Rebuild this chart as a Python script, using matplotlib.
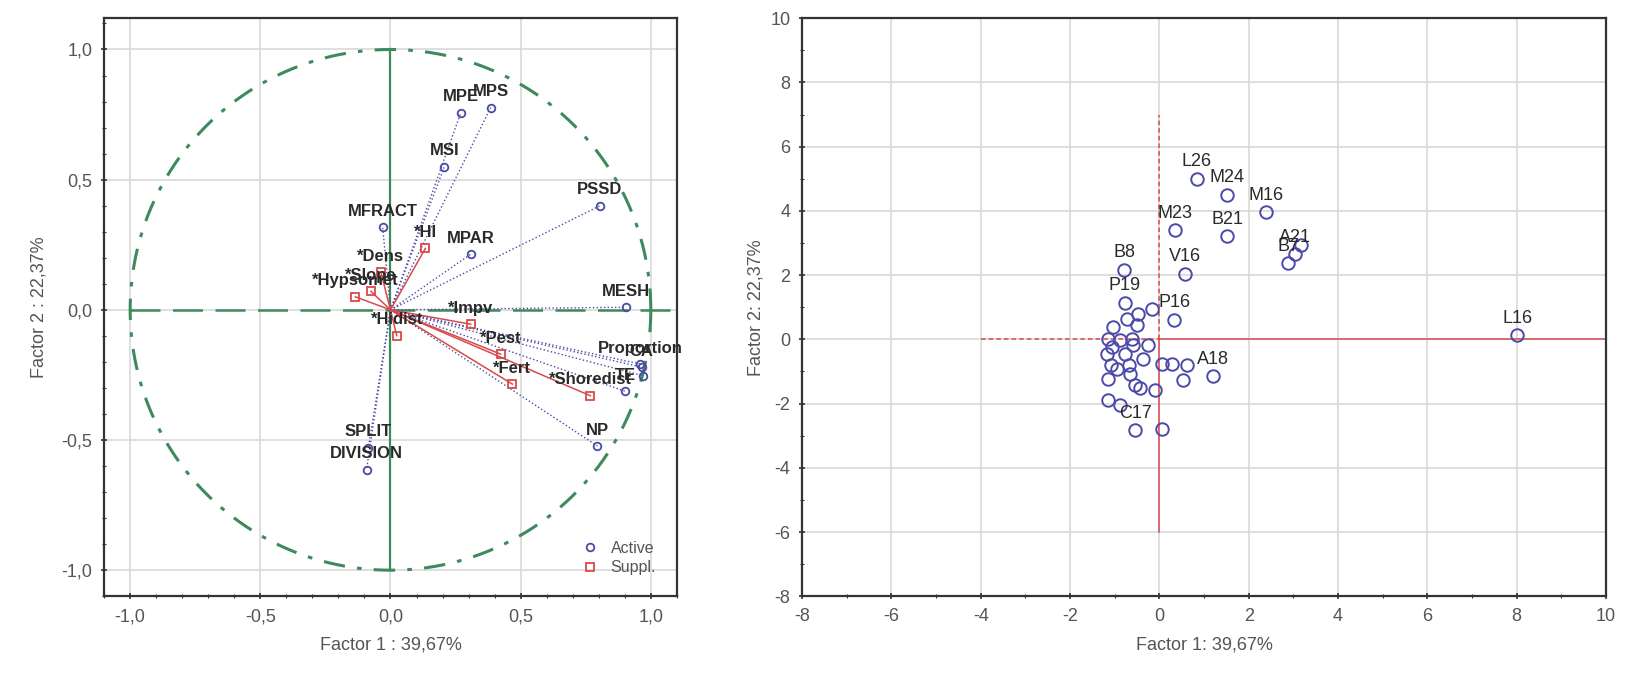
import numpy as np
import matplotlib
matplotlib.use("Agg")
import matplotlib.pyplot as plt
from matplotlib.ticker import MultipleLocator, FuncFormatter
from matplotlib.lines import Line2D

plt.rcParams['font.family'] = ['Liberation Sans', 'DejaVu Sans']
plt.rcParams['axes.unicode_minus'] = False

# --- variable loadings (factor 1 / factor 2) ---
active_names = ["MPE", "MPS", "MSI", "PSSD", "MFRACT", "MPAR", "MESH",
                "Proportion", "CA", "", "TE", "NP", "SPLIT", "DIVISION"]
active_f1 = [0.27, 0.385, 0.207, 0.805, -0.03, 0.31, 0.905,
             0.959, 0.965, 0.971, 0.902, 0.795, -0.085, -0.092]
active_f2 = [0.757, 0.777, 0.55, 0.40, 0.318, 0.215, 0.01,
             -0.208, -0.22, -0.253, -0.313, -0.523, -0.53, -0.614]

supp_names = ["*HI", "*Dens", "*Slope", "*Hypsomet", "*Hidist",
              "*Impv", "*Pest", "*Fert", "*Shoredist"]
supp_f1 = [0.134, -0.037, -0.075, -0.135, 0.024, 0.308, 0.423, 0.468, 0.768]
supp_f2 = [0.236, 0.145, 0.071, 0.05, -0.099, -0.055, -0.17, -0.285, -0.33]

# --- case scores ---
obs_names = ["L16", "L26", "M24", "M16", "M23", "B21", "", "A21", "B7",
             "V16", "B8", "P19", "P16", "A18", "C17",
             "", "", "", "", "", "", "", "", "", "", "", "", "", "", "",
             "", "", "", "", "", "", "", "", "", "", "", "", "", ""]
obs_f1 = [8.02, 0.84, 1.51, 2.38, 0.35, 1.52, 3.17, 3.04, 2.89,
          0.58, -0.79, -0.77, 0.33, 1.21, -0.54,
          -0.17, -0.47, -0.72, -0.51, -1.03, -1.14, -0.88, -0.62, -0.58, -0.25,
          -1.07, -0.77, -1.18, -0.36, 0.05, 0.28, 0.61, -1.09, -0.69, -0.95,
          -0.66, -1.14, 0.54, -0.54, -0.43, -0.10, -1.14, -0.88, 0.05]
obs_f2 = [0.12, 5.0, 4.51, 3.97, 3.40, 3.21, 2.93, 2.65, 2.38,
          2.05, 2.17, 1.14, 0.61, -1.15, -2.83,
          0.93, 0.78, 0.64, 0.44, 0.38, 0.02, -0.03, 0.02, -0.19, -0.19,
          -0.24, -0.45, -0.45, -0.60, -0.76, -0.76, -0.81, -0.81, -0.81, -0.91,
          -1.07, -1.22, -1.28, -1.43, -1.50, -1.57, -1.90, -2.06, -2.78]

x_label_left = "Factor 1 : 39,67%"
y_label_left = "Factor 2 : 22,37%"
x_label_right = "Factor 1: 39,67%"
y_label_right = "Factor 2: 22,37%"

BLUE = "#4a4aa8"
RED = "#d84a4a"
GREEN = "#3d8a5c"
GRID = "#d9d9d9"
TXT = "#555555"
LBL = "#2a2a2a"


def comma_fmt(decimals):
    def f(v, _):
        if abs(v) < 1e-9:
            v = 0.0
        return f"{v:.{decimals}f}".replace('.', ',')
    return FuncFormatter(f)


def style_axes(ax):
    ax.grid(True, which='major', color=GRID, lw=1.2)
    ax.set_axisbelow(True)
    for s in ax.spines.values():
        s.set_color("#333333")
        s.set_linewidth(1.6)
    ax.tick_params(which='both', direction='inout', colors="#333333",
                   labelcolor=TXT, labelsize=13)
    ax.tick_params(which='major', length=5, width=1.2, pad=6)
    ax.tick_params(which='minor', length=3, width=0.8)


fig = plt.figure(figsize=(16.27, 6.76), dpi=100)
ax1 = fig.add_axes([0.064, 0.118, 0.352, 0.855])
ax2 = fig.add_axes([0.493, 0.118, 0.494, 0.855])

# ---------------- correlation circle ----------------
style_axes(ax1)
ax1.set_xlim(-1.1, 1.1)
ax1.set_ylim(-1.1, 1.12)
ax1.xaxis.set_major_locator(MultipleLocator(0.5))
ax1.yaxis.set_major_locator(MultipleLocator(0.5))
ax1.xaxis.set_minor_locator(MultipleLocator(0.1))
ax1.yaxis.set_minor_locator(MultipleLocator(0.1))
ax1.xaxis.set_major_formatter(comma_fmt(1))
ax1.yaxis.set_major_formatter(comma_fmt(1))

t = np.linspace(0, 2 * np.pi, 400)
ax1.plot(np.cos(t), np.sin(t), color=GREEN, lw=2.2, ls=(0, (7, 4, 1.5, 4)))
ax1.plot([-1.0, 1.1], [0, 0], color=GREEN, lw=1.8, ls=(0, (12, 5)))
ax1.plot([0, 0], [-1.0, 1.0], color=GREEN, lw=1.6)

for x, y in zip(active_f1, active_f2):
    ax1.plot([0, x], [0, y], color=BLUE, lw=1.0, ls=':')
for x, y in zip(supp_f1, supp_f2):
    ax1.plot([0, x], [0, y], color=RED, lw=1.1)

ax1.plot(active_f1, active_f2, 'o', ms=5.5, mfc='none', mec=BLUE, mew=1.3)
ax1.plot(supp_f1, supp_f2, 's', ms=5.5, mfc='none', mec=RED, mew=1.3)

for name, x, y in zip(active_names + supp_names, active_f1 + supp_f1,
                      active_f2 + supp_f2):
    if name:
        ax1.annotate(name, (x, y), xytext=(0, 6), textcoords='offset points',
                     ha='center', va='bottom', fontsize=12, color=LBL,
                     fontweight='semibold')

handles = [Line2D([], [], marker='o', ls='none', ms=5.5, mfc='none', mec=BLUE, mew=1.3),
           Line2D([], [], marker='s', ls='none', ms=5.5, mfc='none', mec=RED, mew=1.3)]
leg = ax1.legend(handles, ["Active", "Suppl."], loc='lower right', frameon=False,
                 fontsize=11.5, handlelength=1.0, handletextpad=0.8,
                 labelspacing=0.3, borderaxespad=0.9)
for txt in leg.get_texts():
    txt.set_color(TXT)

ax1.set_xlabel(x_label_left, fontsize=13, color=TXT, labelpad=8)
ax1.set_ylabel(y_label_left, fontsize=13, color=TXT, labelpad=10)

# ---------------- case scores ----------------
style_axes(ax2)
ax2.set_xlim(-8, 10)
ax2.set_ylim(-8, 10)
ax2.xaxis.set_major_locator(MultipleLocator(2))
ax2.yaxis.set_major_locator(MultipleLocator(2))
ax2.xaxis.set_minor_locator(MultipleLocator(1))
ax2.yaxis.set_minor_locator(MultipleLocator(1))

ax2.plot([-4, 0], [0, 0], color=RED, lw=1.1, ls=(0, (3, 2)))
ax2.plot([0, 10], [0, 0], color=RED, lw=1.1)
ax2.plot([0, 0], [0, 7], color=RED, lw=1.1, ls=(0, (3, 2)))
ax2.plot([0, 0], [-6, 0], color=RED, lw=1.1)

ax2.plot(obs_f1, obs_f2, 'o', ms=9, mfc='none', mec=BLUE, mew=1.4)
for name, x, y in zip(obs_names, obs_f1, obs_f2):
    if name:
        ax2.annotate(name, (x, y), xytext=(0, 6), textcoords='offset points',
                     ha='center', va='bottom', fontsize=13, color=LBL)

ax2.set_xlabel(x_label_right, fontsize=13, color=TXT, labelpad=8)
ax2.set_ylabel(y_label_right, fontsize=13, color=TXT, labelpad=4)

fig.savefig("out.png", dpi=100)
